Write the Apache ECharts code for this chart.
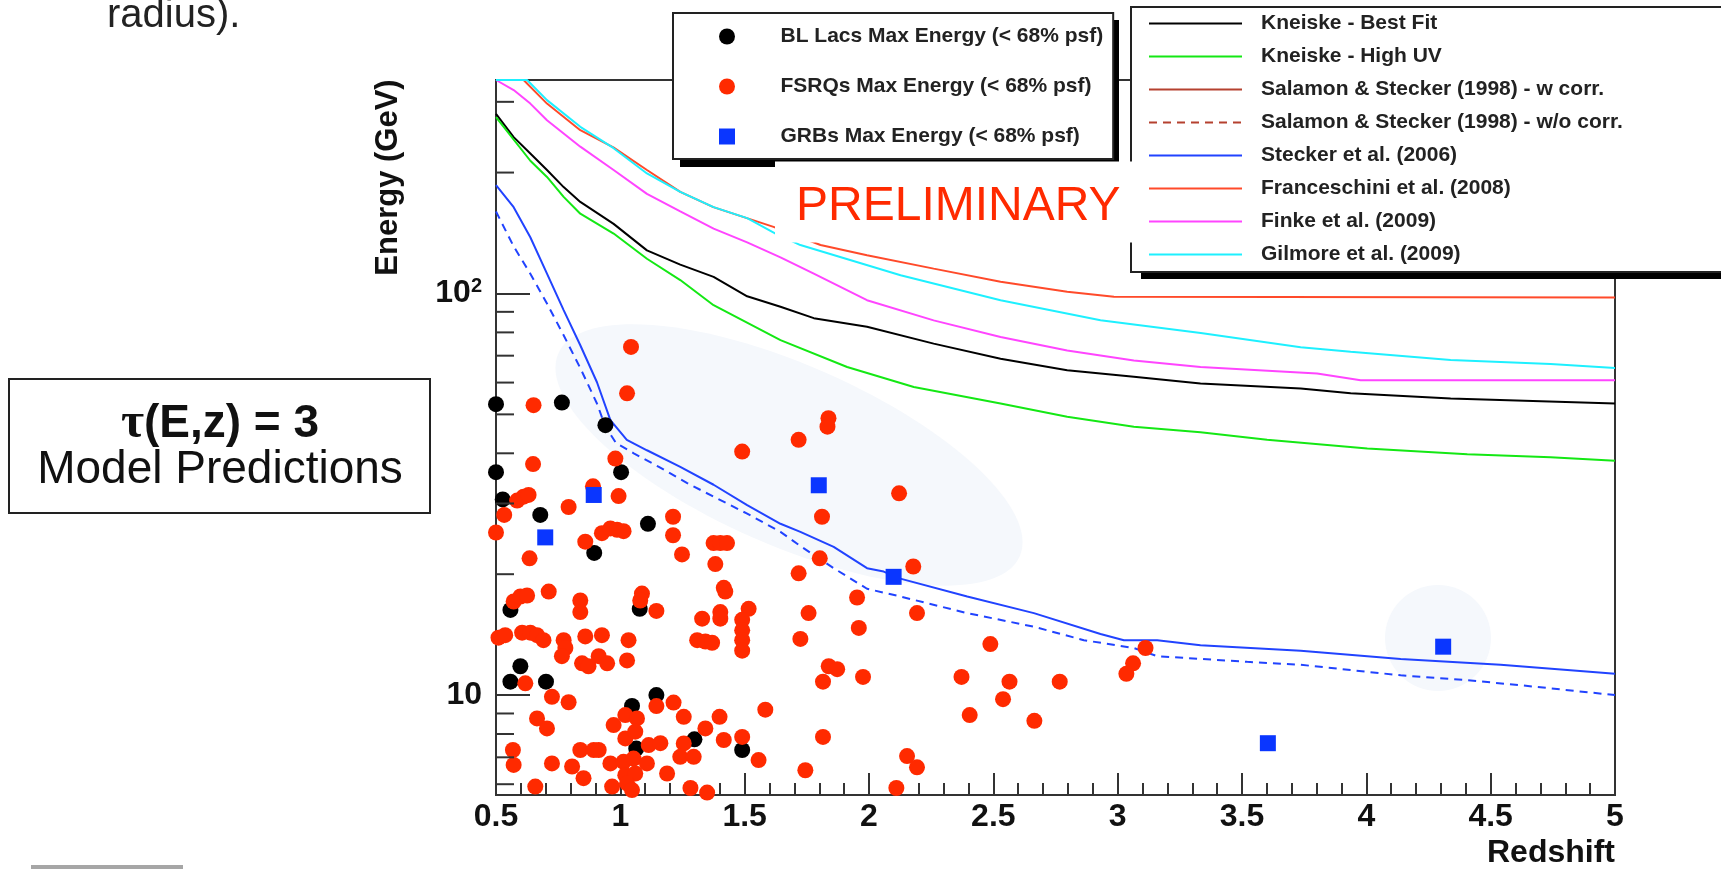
<!DOCTYPE html>
<html>
<head>
<meta charset="utf-8">
<title>Max photon energy vs redshift</title>
<script src="https://cdn.jsdelivr.net/npm/echarts@6/dist/echarts.min.js"></script>
<style>
html, body, #chart { margin: 0; padding: 0; width: 1721px; height: 869px; background: #fff; }
</style>
</head>
<body>
<div id="chart"></div>
<script>
// model curves, tau(E,z) = 3
const kneiskeBestZ = [0.5, 0.571, 0.638, 0.705, 0.772, 0.839, 0.973, 1.107, 1.241, 1.375, 1.51, 1.644, 1.778, 1.992, 2.26, 2.529, 2.797, 3.065, 3.333, 3.736, 3.937, 4.339, 5.0];
const kneiskeBestE = [280, 245, 223, 203, 184, 169, 149, 128, 118, 110, 98.4, 92.7, 86.8, 82.6, 75.0, 68.8, 64.4, 62.0, 59.7, 58.0, 56.4, 54.8, 53.2];

const kneiskeUVZ = [0.5, 0.638, 0.705, 0.772, 0.839, 0.973, 1.107, 1.241, 1.375, 1.644, 1.912, 2.18, 2.529, 2.797, 3.065, 3.333, 3.601, 4.004, 4.406, 4.741, 5.0];
const kneiskeUVE = [275, 214, 195, 174, 158, 141, 122, 108, 93.5, 76.5, 65.6, 58.5, 53.2, 49.3, 46.6, 45.1, 43.2, 41.1, 39.8, 39.1, 38.3];

const steckerZ = [0.5, 0.571, 0.638, 0.705, 0.772, 0.839, 0.906, 0.96, 1.026, 1.107, 1.241, 1.375, 1.51, 1.644, 1.724, 1.858, 1.992, 2.059, 2.126, 2.395, 2.663, 2.931, 3.025, 3.159, 3.333, 3.736, 4.138, 4.54, 5.0];
const steckerE = [186, 164, 138, 112, 90.9, 74.3, 60.1, 48.4, 43.2, 40.7, 37.0, 33.4, 29.7, 26.7, 25.5, 23.4, 20.7, 20.3, 19.5, 17.6, 16.0, 14.2, 13.7, 13.7, 13.3, 12.9, 12.3, 11.9, 11.3];

const steckerDashZ = [0.5, 0.571, 0.638, 0.705, 0.772, 0.839, 0.906, 0.94, 0.983, 1.054, 1.155, 1.269, 1.375, 1.51, 1.644, 1.724, 1.858, 1.992, 2.126, 2.395, 2.663, 2.864, 3.065, 3.159, 3.521, 3.736, 4.138, 4.406, 4.674, 5.0];
const steckerDashE = [160, 131, 112, 94.4, 78.7, 65.2, 53.2, 46.6, 42.4, 40.0, 37.0, 33.7, 31.2, 28.3, 25.5, 23.5, 20.7, 18.4, 17.6, 16.0, 14.8, 13.7, 13.1, 12.5, 12.1, 11.9, 11.2, 10.9, 10.5, 10.0];

const franceschiniZ = [0.5, 0.611, 0.705, 0.839, 0.972, 1.107, 1.241, 1.374, 1.616, 1.805, 1.992, 2.26, 2.529, 2.797, 2.985, 5.0];
const franceschiniE = [340, 340, 297, 255, 231, 203, 179, 164, 146.5, 132, 124.5, 115.3, 107, 101, 98.2, 97.7];

const finkeZ = [0.5, 0.571, 0.638, 0.705, 0.839, 0.973, 1.107, 1.241, 1.375, 1.51, 1.644, 1.778, 1.992, 2.26, 2.529, 2.797, 3.065, 3.333, 3.802, 3.977, 5.0];
const finkeE = [340, 321, 297, 270, 232, 203, 177, 160, 145, 134, 123, 112, 96.2, 85.7, 77.9, 72.1, 68.1, 65.6, 63.2, 60.8, 60.8];

const gilmoreZ = [0.5, 0.625, 0.705, 0.839, 0.973, 1.107, 1.241, 1.375, 1.51, 1.624, 1.724, 2.127, 2.529, 2.931, 3.334, 3.736, 3.937, 4.339, 4.741, 5.0];
const gilmoreE = [340, 340, 303, 260, 230, 199, 179, 164, 154, 141, 132, 111, 96.2, 85.8, 79.7, 73.5, 71.6, 68.3, 66.7, 65.2];

// sources: highest photon energy inside the 68% psf
const blLacZ = [0.5, 0.765, 0.94, 0.5, 1.003, 0.527, 0.678, 1.111, 0.895, 0.558, 1.078, 0.598, 0.558, 0.701, 1.145, 1.047, 1.298, 1.064, 1.49];
const blLacE = [53, 53.5, 47.0, 35.9, 35.9, 30.7, 28.1, 26.7, 22.6, 16.3, 16.4, 11.8, 10.8, 10.8, 10.0, 9.4, 7.76, 7.36, 7.30];

const fsrqZ = [0.651, 1.027, 1.043, 0.649, 0.980, 0.890, 0.993, 0.585, 0.611, 0.631,
  0.533, 0.792, 0.5, 0.635, 0.859, 0.926, 0.960, 0.987, 1.013, 1.212,
  1.212, 1.248, 1.375, 1.402, 1.429, 1.382, 1.490, 1.717, 1.837, 1.833,
  2.121, 1.811, 1.802, 1.717, 2.178, 1.952, 1.416, 1.422, 1.329, 1.402,
  1.402, 1.516, 1.490, 1.490, 1.490, 1.490, 1.757, 1.959, 2.193, 1.724,
  1.309, 1.342, 1.369, 1.838, 1.872, 1.815, 1.976, 2.488, 2.372, 2.565,
  2.539, 2.767, 2.405, 2.665, 1.583, 1.815, 1.744, 1.556, 1.490, 1.416,
  1.399, 1.342, 1.255, 1.214, 1.145, 1.255, 1.241, 1.295, 1.188, 1.282,
  1.349, 2.153, 2.193, 2.110, 3.112, 3.062, 3.035, 0.973, 1.020, 1.067,
  1.020, 1.060, 1.114, 1.161, 0.960, 1.013, 1.053, 1.107, 1.020, 1.060,
  0.967, 1.027, 1.047, 0.852, 0.839, 0.893, 0.913, 0.806, 0.725, 0.658,
  0.571, 0.568, 0.665, 0.705, 0.618, 0.725, 0.792, 0.571, 0.598, 0.625,
  0.712, 0.839, 0.839, 1.087, 1.080, 1.145, 0.510, 0.537, 0.605, 0.638,
  0.665, 0.691, 0.772, 0.779, 0.765, 0.859, 0.926, 1.033, 0.846, 0.872,
  0.913, 0.947, 1.027];
const fsrqE = [52.7, 56.4, 73.6, 37.6, 38.8, 33.1, 31.3, 30.5, 31.2, 31.5,
  28.1, 29.4, 25.4, 21.9, 24.1, 25.3, 26.0, 25.8, 25.6, 27.8,
  25.0, 22.4, 23.9, 23.9, 23.9, 21.2, 40.4, 43.2, 48.9, 46.6,
  31.8, 27.8, 21.9, 20.1, 20.9, 17.5, 18.5, 18.1, 15.5, 16.1,
  15.5, 16.4, 15.4, 14.5, 13.7, 12.9, 16.0, 14.7, 16.0, 13.8,
  13.7, 13.6, 13.5, 11.8, 11.6, 10.8, 11.1, 13.4, 11.1, 10.8,
  9.77, 10.8, 8.92, 8.63, 9.2, 7.87, 6.50, 6.89, 7.87, 7.73,
  8.83, 8.26, 8.83, 9.58, 9.39, 7.58, 7.02, 7.02, 6.38, 5.87,
  5.72, 7.05, 6.61, 5.87, 13.1, 12.0, 11.3, 8.42, 8.92, 8.75,
  7.80, 8.11, 7.51, 7.59, 6.76, 6.82, 6.95, 6.76, 6.32, 6.38,
  5.92, 6.03, 5.80, 6.21, 7.30, 7.30, 7.30, 6.64, 6.76, 5.92,
  6.70, 7.30, 8.75, 8.26, 10.7, 9.9, 9.6, 17.1, 17.6, 17.7,
  18.1, 17.2, 16.1, 17.9, 17.2, 16.2, 13.9, 14.1, 14.3, 14.3,
  14.1, 13.7, 13.7, 13.1, 12.5, 14.0, 14.1, 13.7, 12.0, 11.8,
  12.5, 12.0, 12.2];

const grbZ = [0.893, 0.698, 1.798, 2.099, 4.309, 3.604];
const grbE = [31.5, 24.7, 33.3, 19.7, 13.2, 7.59];

// log-axis minor ticks (majors at 10 and 100 come from the axis)
const yMinorTicks = [6, 7, 8, 9, 20, 30, 40, 50, 60, 70, 80, 90, 200, 300];

const markerNames = ['BL Lacs Max Energy (< 68% psf)', 'FSRQs Max Energy (< 68% psf)', 'GRBs Max Energy (< 68% psf)'];
const modelNames = ['Kneiske - Best Fit', 'Kneiske - High UV', 'Salamon & Stecker (1998) - w corr.',
  'Salamon & Stecker (1998) - w/o corr.', 'Stecker et al. (2006)', 'Franceschini et al. (2008)',
  'Finke et al. (2009)', 'Gilmore et al. (2009)'];

const FONT = '"Liberation Sans", Arial, Helvetica, sans-serif';
const SQUARE = 'path://M0,0H10V10H0Z';
const pairs = (xs, ys) => xs.map((x, i) => [x, ys[i]]);

function curve(name, xs, ys, color, dash) {
  return {
    name: name, type: 'line', data: pairs(xs, ys),
    symbol: 'none', showSymbol: false, silent: true, z: 2,
    lineStyle: { color: color, width: 2, type: dash ? [8, 6] : 'solid' },
    itemStyle: { color: color }
  };
}

function points(name, xs, ys, color, symbol) {
  return {
    name: name, type: 'scatter', data: pairs(xs, ys),
    symbol: symbol, symbolSize: 16, silent: true, z: 3,
    itemStyle: { color: color, opacity: 1 }
  };
}

const chart = echarts.init(document.getElementById('chart'));

const option = {
  animation: false,
  backgroundColor: '#fff',
  textStyle: { fontFamily: FONT },
  grid: {
    left: 496, right: 106, top: 80, bottom: 74,
    show: true, borderColor: '#333', borderWidth: 2, backgroundColor: 'transparent'
  },
  xAxis: {
    type: 'value', min: 0.5, max: 5, interval: 0.5,
    name: 'Redshift', nameLocation: 'end', nameGap: 0,
    nameTextStyle: { fontSize: 32, fontWeight: 'bold', color: '#111', align: 'right', verticalAlign: 'top', padding: [42, 0, 0, 0] },
    axisLine: { lineStyle: { color: '#333', width: 2 } },
    axisTick: { inside: true, length: 22, lineStyle: { color: '#333', width: 2 } },
    minorTick: { show: true, splitNumber: 5, length: 12, lineStyle: { color: '#333', width: 2 } },
    axisLabel: { fontSize: 32, fontWeight: 'bold', color: '#111', margin: 6 },
    splitLine: { show: false }
  },
  yAxis: {
    type: 'log', logBase: 10, min: 5.64, max: 340,
    name: 'Energy (GeV)', nameLocation: 'middle', nameRotate: 90, nameGap: 92,
    nameTextStyle: { fontSize: 31, fontWeight: 'bold', color: '#111', padding: [0, 0, 0, 520] },
    axisLine: { show: true, lineStyle: { color: '#333', width: 2 } },
    axisTick: { show: true, inside: true, length: 34, lineStyle: { color: '#333', width: 2 } },
    axisLabel: {
      fontSize: 32, fontWeight: 'bold', color: '#111', margin: 14,
      showMinLabel: false, showMaxLabel: false,
      formatter: function (v) {
        const p = Math.log10(v);
        const r = Math.round(p);
        if (Math.abs(p - r) > 1e-6) return '';
        return r === 1 ? '10' : '10{sup|' + r + '}';
      },
      rich: { sup: { fontSize: 20, fontWeight: 'bold', color: '#111', verticalAlign: 'top', padding: [0, 0, 14, 0] } }
    },
    splitLine: { show: false }
  },
  legend: [
    {
      data: markerNames, orient: 'vertical', left: 673, top: 13,
      itemWidth: 97, itemHeight: 16, itemGap: 29,
      padding: [13, 10, 12, 46],
      backgroundColor: '#fff', borderColor: '#222', borderWidth: 2,
      textStyle: { fontFamily: FONT, fontSize: 21, fontWeight: 'bold', color: '#222' },
      selectedMode: false
    },
    {
      data: modelNames, orient: 'vertical', left: 1131, top: 7,
      itemWidth: 93, itemHeight: 14, itemGap: 12,
      padding: [6, 300, 7, 17],
      backgroundColor: '#fff', borderColor: '#222', borderWidth: 2,
      itemStyle: { opacity: 0 },
      textStyle: { fontFamily: FONT, fontSize: 21, fontWeight: 'bold', color: '#222', padding: [0, 0, 0, 14] },
      selectedMode: false
    }
  ],
  series: [
    curve(modelNames[0], kneiskeBestZ, kneiskeBestE, '#000000'),
    curve(modelNames[1], kneiskeUVZ, kneiskeUVE, '#14e814'),
    curve(modelNames[2], [], [], '#b5412f'),
    curve(modelNames[3], [], [], '#b5412f', true),
    curve(modelNames[4], steckerZ, steckerE, '#2143ff'),
    curve('Stecker et al. (2006) dashed', steckerDashZ, steckerDashE, '#2143ff', true),
    curve(modelNames[5], franceschiniZ, franceschiniE, '#ff4a2a'),
    curve(modelNames[6], finkeZ, finkeE, '#ff45ff'),
    curve(modelNames[7], gilmoreZ, gilmoreE, '#1ef0ff'),
    points(markerNames[0], blLacZ, blLacE, '#000000', 'circle'),
    points(markerNames[1], fsrqZ, fsrqE, '#ff2a00', 'circle'),
    points(markerNames[2], grbZ, grbE, '#0a36ff', SQUARE),
    {
      type: 'custom', silent: true, z: 4,
      data: yMinorTicks.map(v => [0.5, v]),
      renderItem: function (params, api) {
        const p = api.coord([api.value(0), api.value(1)]);
        return {
          type: 'line',
          shape: { x1: p[0], y1: p[1], x2: p[0] + 18, y2: p[1] },
          style: { stroke: '#333', lineWidth: 2 }
        };
      }
    }
  ],
  graphic: {
    elements: [
      // light highlight regions behind the points
      { type: 'ellipse', x: 789, y: 455, rotation: -0.414, shape: { cx: 0, cy: 0, rx: 252, ry: 90 }, style: { fill: '#f5f8fc' }, z: 1, silent: true },
      { type: 'circle', shape: { cx: 1438, cy: 638, r: 53 }, style: { fill: '#f5f8fc' }, z: 1, silent: true },
      // solid drop shadows of the two legend boxes
      { type: 'rect', shape: { x: 680, y: 20, width: 439, height: 147 }, style: { fill: '#000' }, z: 3, silent: true },
      { type: 'rect', shape: { x: 1141, y: 14, width: 700, height: 265 }, style: { fill: '#000' }, z: 3, silent: true },
      // white patch under the PRELIMINARY stamp
      { type: 'rect', shape: { x: 775, y: 161.5, width: 365, height: 81 }, style: { fill: '#fff' }, z: 10, silent: true },
      { type: 'text', x: 796, y: 207, z: 11, style: { text: 'PRELIMINARY', fontSize: 48, fontFamily: FONT, fill: '#ff2a00', verticalAlign: 'middle' } },
      { type: 'text', x: 107, y: 16, style: { text: 'radius).', fontSize: 40, fontFamily: FONT, fill: '#222', verticalAlign: 'middle' } },
      { type: 'rect', shape: { x: 9, y: 379, width: 421, height: 134 }, style: { fill: '#fff', stroke: '#222', lineWidth: 2 } },
      {
        type: 'text', x: 220, y: 424,
        style: {
          text: '{t|τ}(E,z) = 3', fontSize: 46, fontWeight: 'bold', fontFamily: FONT, fill: '#111',
          align: 'center', verticalAlign: 'middle',
          rich: { t: { fontFamily: '"Liberation Serif", "DejaVu Serif", serif', fontWeight: 'bold', fontSize: 50, fill: '#111' } }
        }
      },
      { type: 'text', x: 220, y: 470, style: { text: 'Model Predictions', fontSize: 46, fontFamily: FONT, fill: '#111', align: 'center', verticalAlign: 'middle' } },
      { type: 'rect', shape: { x: 31, y: 865, width: 152, height: 4 }, style: { fill: '#a6a6a6' } }
    ]
  }
};

chart.setOption(option);
</script>
</body>
</html>
